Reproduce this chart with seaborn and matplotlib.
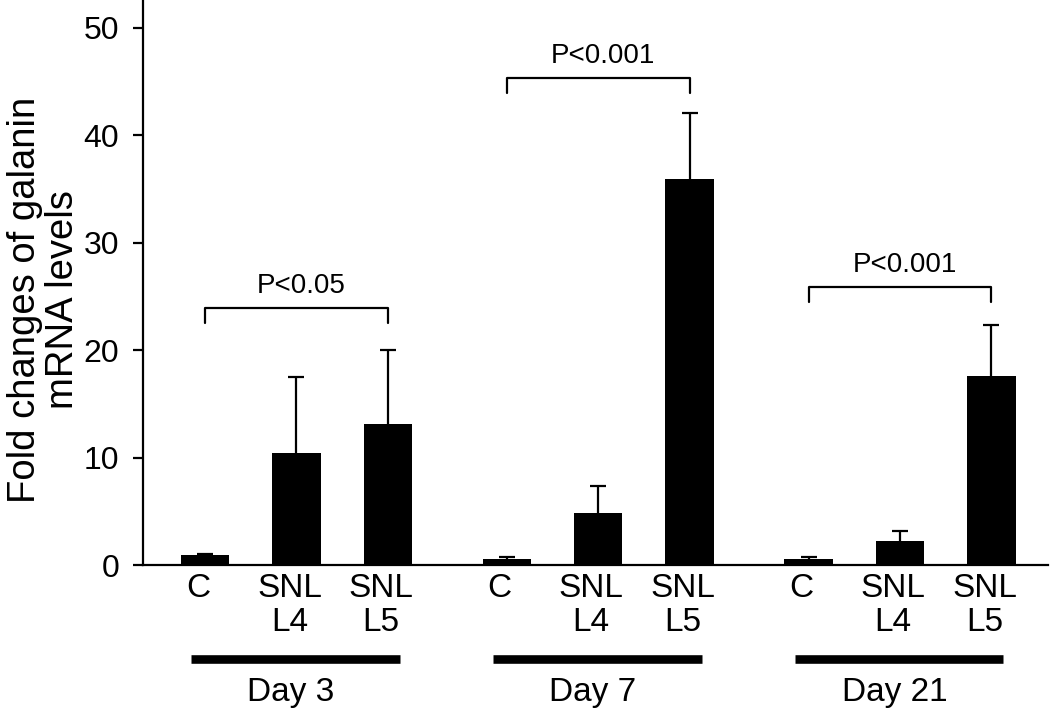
import numpy as np
import pandas as pd
import seaborn as sns
import matplotlib
matplotlib.use("Agg")
import matplotlib.pyplot as plt
import matplotlib.transforms as mtransforms

# data
days = ["Day 3", "Day 7", "Day 21"]
groups = ["C", "SNL\nL4", "SNL\nL5"]
fold_mean = [0.93, 10.4, 13.1, 0.55, 4.8, 35.9, 0.55, 2.2, 17.6]
fold_upper = [1.03, 17.5, 20.0, 0.75, 7.4, 42.1, 0.7, 3.2, 22.3]
p_labels = ["P<0.05", "P<0.001", "P<0.001"]
bracket_top = [23.9, 45.3, 25.9]

sns.set_style("ticks")
plt.rcParams["font.family"] = ["Liberation Sans", "DejaVu Sans"]
for key in ["text.color", "axes.labelcolor", "xtick.color", "ytick.color", "axes.edgecolor"]:
    plt.rcParams[key] = "black"

# bar positions: 3 bars per day with a wider gap between days
positions = [g * 3.3 + i for g in range(len(days)) for i in range(len(groups))]
df = pd.DataFrame({
    "pos": positions,
    "fold": fold_mean,
    "label": groups * len(days),
})

fig = plt.figure(figsize=(10.5, 7.1), dpi=100)
ax = fig.add_axes([0.1362, 0.2042, 0.862, 0.7958])

sns.barplot(data=df, x="pos", y="fold", native_scale=True, width=0.53,
            color="black", saturation=1, errorbar=None, ax=ax, linewidth=0)

# upper-only error bars
err_up = np.array(fold_upper) - np.array(fold_mean)
eb = ax.errorbar(df["pos"], df["fold"], yerr=[np.zeros(len(err_up)), err_up],
                 fmt="none", ecolor="black", elinewidth=1.6, capsize=5.8, capthick=1.6)
eb[1][0].set_visible(False)  # hide the lower caps

ax.set_xlim(-0.678, 9.22)
ax.set_ylim(0, 52.6)
ax.set_yticks([0, 10, 20, 30, 40, 50])
ax.set_xticks(positions)
ax.set_xticklabels(df["label"], fontsize=24, linespacing=1.1)
ax.set_xlabel("")
ax.tick_params(axis="x", length=0, pad=6)
ax.tick_params(axis="y", length=7.2, width=1.6, pad=10, labelsize=23)
offset = mtransforms.ScaledTranslation(-0.07, 0, fig.dpi_scale_trans)
for lab in ax.get_xticklabels():
    lab.set_transform(lab.get_transform() + offset)

sns.despine(ax=ax)
for side in ["left", "bottom"]:
    ax.spines[side].set_linewidth(1.6)

ax.set_ylabel("Fold changes of galanin\nmRNA levels", fontsize=27.5, linespacing=1.1)
ax.yaxis.set_label_coords(-0.068, 0.469)

# significance brackets
for g in range(len(days)):
    x0 = positions[g * 3]
    x1 = positions[g * 3 + 2]
    top = bracket_top[g]
    ax.plot([x0, x0, x1, x1], [top - 1.4, top, top, top - 1.4],
            color="black", lw=1.6, clip_on=False)
    ax.text((x0 + x1) / 2 + 0.05, top + 1.4, p_labels[g], ha="center",
            va="baseline", fontsize=20)

# day bars and labels below the axis
trans = mtransforms.blended_transform_factory(ax.transData, fig.transFigure)
for g, day in enumerate(days):
    x0 = positions[g * 3] - 0.15
    x1 = positions[g * 3 + 2] + 0.13
    ax.plot([x0, x1], [0.0718, 0.0718], color="black", lw=6.2,
            solid_capstyle="butt", transform=trans, clip_on=False)
    ax.text((x0 + x1) / 2 - 0.05, 0.0127, day, ha="center", va="baseline",
            fontsize=24, transform=trans)

fig.savefig("out.png", dpi=100)
